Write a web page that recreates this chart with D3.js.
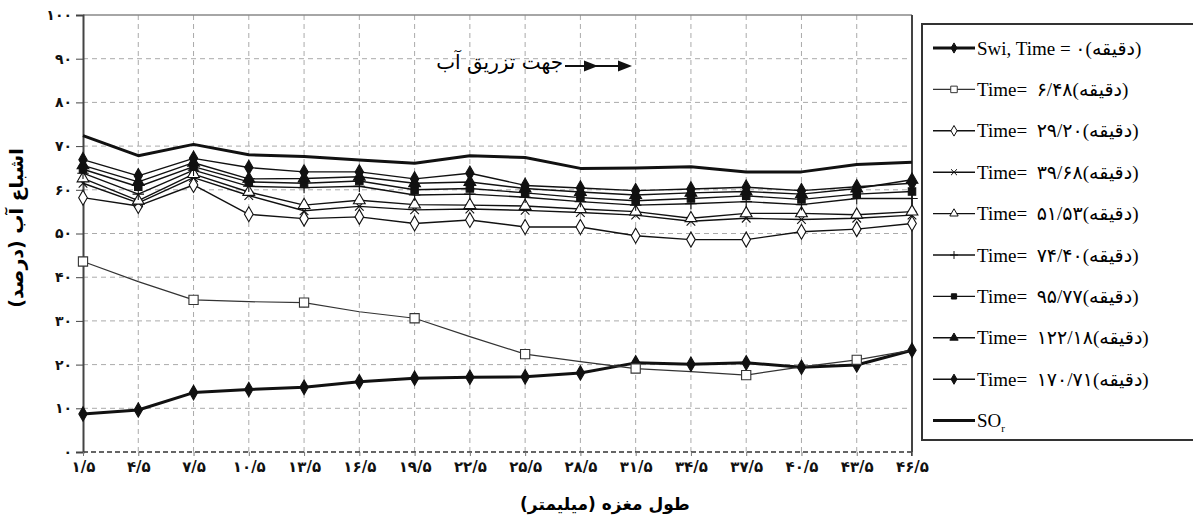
<!DOCTYPE html>
<html>
<head>
<meta charset="utf-8">
<script src="https://cdn.jsdelivr.net/npm/d3@7"></script>
<style>
  body { margin: 0; background: #fff; }
  svg { display: block; }
</style>
</head>
<body>
<div id="chart"></div>
<script>
// core length (mm) at each measuring point
const positions = [1.5, 4.5, 7.5, 10.5, 13.5, 16.5, 19.5, 22.5, 25.5, 28.5, 31.5, 34.5, 37.5, 40.5, 43.5, 46.5]
const xTickLabels = ["۱/۵", "۴/۵", "۷/۵", "۱۰/۵", "۱۳/۵", "۱۶/۵", "۱۹/۵", "۲۲/۵", "۲۵/۵", "۲۸/۵", "۳۱/۵", "۳۴/۵", "۳۷/۵", "۴۰/۵", "۴۳/۵", "۴۶/۵"]
const yTicks = [0, 10, 20, 30, 40, 50, 60, 70, 80, 90, 100]
const yTickLabels = ["۰", "۱۰", "۲۰", "۳۰", "۴۰", "۵۰", "۶۰", "۷۰", "۸۰", "۹۰", "۱۰۰"]

// water saturation (%) per time step
const swi    = [8.7, 9.6, 13.6, 14.3, 14.8, 16.1, 16.9, 17.1, 17.2, 18.1, 20.4, 20.1, 20.4, 19.4, 19.9, 23.3]
const t648   = [43.6, 39.0, 34.8, 34.4, 34.2, 32.1, 30.6, 26.4, 22.4, 20.7, 19.1, 18.4, 17.6, 19.5, 21.1, 23.3]
const t2920  = [58.2, 56.3, 61.1, 54.4, 53.4, 53.8, 52.3, 53.1, 51.5, 51.5, 49.5, 48.6, 48.6, 50.4, 51.0, 52.3]
const t3968  = [61.5, 57.0, 62.8, 58.7, 55.2, 56.2, 55.4, 55.6, 55.3, 54.8, 54.2, 52.8, 53.5, 53.2, 53.5, 54.2]
const t5153  = [62.6, 57.5, 63.6, 59.5, 56.5, 57.6, 56.6, 56.5, 56.3, 55.6, 55.0, 53.5, 54.6, 54.6, 54.3, 55.0]
const t7440  = [63.8, 59.0, 64.5, 60.8, 60.5, 60.8, 58.8, 59.0, 58.3, 57.3, 56.5, 56.8, 57.3, 56.6, 58.0, 58.0]
const t9577  = [64.7, 60.7, 65.3, 61.8, 61.5, 62.0, 60.0, 60.3, 59.3, 58.2, 57.5, 58.0, 58.6, 57.8, 59.0, 59.6]
const t12218 = [65.6, 61.8, 66.2, 62.5, 62.6, 63.0, 61.5, 61.8, 60.3, 59.5, 58.8, 59.3, 59.6, 59.0, 60.3, 62.3]
const t17071 = [66.9, 63.2, 67.2, 65.1, 64.1, 64.1, 62.5, 63.8, 61.0, 60.4, 59.8, 60.2, 60.6, 59.8, 60.7, 61.5]
const sor    = [72.4, 67.8, 70.4, 68.0, 67.6, 66.8, 66.1, 67.8, 67.4, 64.9, 65.0, 65.3, 64.1, 64.1, 65.8, 66.3]

const legendLabels = [
  "Swi, Time = ۰(دقیقه)",
  "Time=  ۶/۴۸(دقیقه)",
  "Time=  ۲۹/۲۰(دقیقه)",
  "Time=  ۳۹/۶۸(دقیقه)",
  "Time=  ۵۱/۵۳(دقیقه)",
  "Time=  ۷۴/۴۰(دقیقه)",
  "Time=  ۹۵/۷۷(دقیقه)",
  "Time=  ۱۲۲/۱۸(دقیقه)",
  "Time=  ۱۷۰/۷۱(دقیقه)",
  "SO"
]

const W = 1193, H = 523
const svg = d3.select("#chart").append("svg").attr("width", W).attr("height", H)

const x = d3.scaleLinear().domain([1.5, 46.5]).range([83, 912])
const y = d3.scaleLinear().domain([0, 100]).range([452, 15])

// series style table
const series = [
  { values: swi,    sym: d3.symbolDiamond,  size: 60, fill: "#111", width: 3 },
  { values: t648,   sym: d3.symbolSquare,   size: 85, fill: "#fff", width: 1.2, every: 2, color: "#333" },
  { values: t2920,  sym: d3.symbolDiamond,  size: 65, fill: "#fff", width: 1.4 },
  { values: t3968,  sym: d3.symbolTimes,    size: 50, fill: "none", width: 1.4 },
  { values: t5153,  sym: d3.symbolTriangle, size: 60, fill: "#fff", width: 1.4 },
  { values: t7440,  sym: d3.symbolPlus,     size: 45, fill: "none", width: 1.4 },
  { values: t9577,  sym: d3.symbolSquare,   size: 55, fill: "#111", width: 1.4 },
  { values: t12218, sym: d3.symbolTriangle, size: 60, fill: "#111", width: 1.4 },
  { values: t17071, sym: d3.symbolDiamond,  size: 60, fill: "#111", width: 1.4 },
  { values: sor,    sym: null,              size: 0,  fill: "none", width: 3 }
]

/* ------- GRID -------*/
const grid = svg.append("g")
grid.selectAll("line.v")
  .data(positions.slice(1, -1))
  .join("line")
    .attr("x1", d => x(d)).attr("x2", d => x(d))
    .attr("y1", y(100)).attr("y2", y(0))
    .attr("stroke", "#aaa").attr("stroke-dasharray", "5,4")
grid.selectAll("line.h")
  .data(yTicks.slice(1, -1))
  .join("line")
    .attr("x1", x(1.5)).attr("x2", x(46.5))
    .attr("y1", d => y(d)).attr("y2", d => y(d))
    .attr("stroke", "#aaa").attr("stroke-dasharray", "5,4")
// bottom (0 line) dashed darker, top solid gray, right solid
svg.append("line")
  .attr("x1", x(1.5)).attr("x2", x(46.5)).attr("y1", y(0)).attr("y2", y(0))
  .attr("stroke", "#333").attr("stroke-width", 1.5).attr("stroke-dasharray", "5,3")
svg.append("line")
  .attr("x1", x(1.5)).attr("x2", x(46.5)).attr("y1", y(100)).attr("y2", y(100))
  .attr("stroke", "#888").attr("stroke-width", 1.5)
svg.append("line")
  .attr("x1", x(46.5)).attr("x2", x(46.5)).attr("y1", y(100)).attr("y2", y(0) + 4)
  .attr("stroke", "#444").attr("stroke-width", 2)

/* ------- AXES -------*/
const yAxis = svg.append("g")
  .attr("transform", "translate(" + x(1.5) + ",0)")
  .call(d3.axisLeft(y).tickValues(yTicks).tickFormat((d, i) => yTickLabels[i]).tickSize(7).tickPadding(4))
yAxis.select(".domain").attr("stroke", "#444").attr("stroke-width", 2)
yAxis.selectAll(".tick line").attr("stroke", "#444")
yAxis.selectAll(".tick text")
  .attr("font-family", "'DejaVu Sans', sans-serif")
  .attr("font-weight", "bold")
  .attr("font-size", 14)
  .attr("fill", "#111")

const xAxis = svg.append("g")
  .attr("transform", "translate(0," + y(0) + ")")
  .call(d3.axisBottom(x).tickValues(positions).tickFormat((d, i) => xTickLabels[i]).tickSize(4).tickPadding(5))
xAxis.select(".domain").remove()
xAxis.selectAll(".tick line").attr("stroke", "#777")
xAxis.selectAll(".tick text")
  .attr("font-family", "'DejaVu Sans', sans-serif")
  .attr("font-weight", "bold")
  .attr("font-size", 15)
  .attr("fill", "#111")

/* ------- LINES -------*/
const line = d3.line()
  .x((d, i) => x(positions[i]))
  .y(d => y(d))

svg.append("g").selectAll("path")
  .data(series)
  .join("path")
    .attr("d", d => line(d.values))
    .attr("fill", "none")
    .attr("stroke", d => d.color || "#111")
    .attr("stroke-width", d => d.width)
    .attr("stroke-linejoin", "round")

/* ------- MARKERS -------*/
series.forEach(s => {
  if (!s.sym) return
  const pts = s.values.map((v, i) => [positions[i], v]).filter((p, i) => i % (s.every || 1) === 0)
  svg.append("g").selectAll("path")
    .data(pts)
    .join("path")
      .attr("transform", d => "translate(" + x(d[0]) + "," + y(d[1]) + ")")
      .attr("d", d3.symbol(s.sym, s.size))
      .attr("fill", s.fill)
      .attr("stroke", s.color || "#111")
      .attr("stroke-width", 1.1)
})

/* ------- ANNOTATION -------*/
svg.append("text")
  .attr("x", 563).attr("y", 69)
  .attr("text-anchor", "end")
  .style("font-family", "'DejaVu Sans', serif")
  .style("font-size", "20px")
  .text("جهت تزریق آب")
svg.append("line")
  .attr("x1", 565).attr("x2", 626).attr("y1", 66).attr("y2", 66)
  .attr("stroke", "#111").attr("stroke-width", 2)
;[598, 632].forEach(tip => {
  svg.append("path")
    .attr("d", "M" + tip + ",66 L" + (tip - 14) + ",60.5 L" + (tip - 14) + ",71.5 Z")
    .attr("fill", "#111")
})

/* ------- AXIS TITLES -------*/
svg.append("text")
  .attr("transform", "translate(23,228) rotate(-90)")
  .attr("text-anchor", "middle")
  .attr("direction", "rtl")
  .style("font-family", "'DejaVu Sans', sans-serif")
  .style("font-weight", "bold")
  .style("font-size", "19px")
  .text("اشباع آب (درصد)")
svg.append("text")
  .attr("x", 605).attr("y", 510)
  .attr("text-anchor", "middle")
  .attr("direction", "rtl")
  .style("font-family", "'DejaVu Sans', sans-serif")
  .style("font-weight", "bold")
  .style("font-size", "17px")
  .text("طول مغزه (میلیمتر)")

/* ------- LEGEND -------*/
const legend = svg.append("g")
legend.append("rect")
  .attr("x", 922).attr("y", 24).attr("width", 300).attr("height", 416)
  .attr("fill", "#fff").attr("stroke", "#333").attr("stroke-width", 2)

const item = legend.selectAll("g.item")
  .data(series)
  .join("g")
    .attr("transform", (d, i) => "translate(0," + (48 + i * 41.4) + ")")
item.append("line")
  .attr("x1", 933).attr("x2", 975)
  .attr("stroke", d => d.color || "#111")
  .attr("stroke-width", d => d.width)
item.filter(d => d.sym).append("path")
  .attr("transform", "translate(954,0)")
  .attr("d", d => d3.symbol(d.sym, d.size * 0.5)())
  .attr("fill", d => d.fill)
  .attr("stroke", d => d.color || "#111")
  .attr("stroke-width", 1)
const lt = item.append("text")
  .attr("x", 977).attr("dy", "0.35em")
  .style("white-space", "pre")
  .style("font-family", "'Liberation Serif', 'DejaVu Sans', serif")
  .style("font-size", "19px")
  .text((d, i) => legendLabels[i])
lt.filter((d, i) => i === legendLabels.length - 1)
  .append("tspan")
    .attr("dy", "0.45em")
    .style("font-size", "11px")
    .text("r")
</script>
</body>
</html>
